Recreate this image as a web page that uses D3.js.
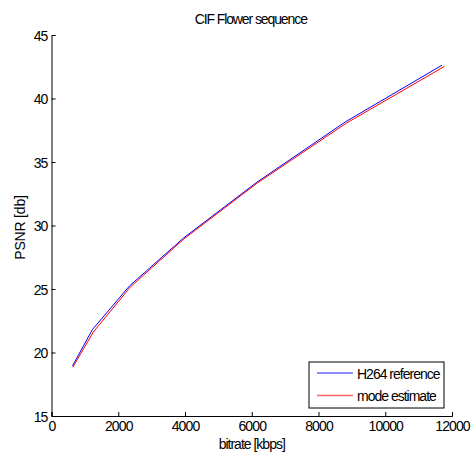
<!DOCTYPE html>
<html>
<head>
<meta charset="utf-8">
<script src="https://cdn.jsdelivr.net/npm/d3@7"></script>
<style>
  body { margin: 0; background: #fff; }
  text { font-family: "Liberation Sans", Arial, sans-serif; fill: #000; }
</style>
</head>
<body>
<svg id="chart" width="471" height="453"></svg>
<script>
// Rate-distortion points (bitrate in kbps, PSNR in dB)
const refBitrate = [630, 1225, 2340, 3950, 6150, 8800, 11700];
const refPsnr    = [18.95, 21.8, 25.25, 29.0, 33.4, 38.15, 42.62];
const estBitrate = [640, 1250, 2360, 3970, 6170, 8830, 11770];
const estPsnr    = [18.85, 21.6, 25.15, 28.95, 33.35, 38.05, 42.52];
const xTicks = [0, 2000, 4000, 6000, 8000, 10000, 12000];
const yTicks = [15, 20, 25, 30, 35, 40, 45];
const seriesNames = ["H264 reference", "mode estimate"];
const seriesColors = ["#0000ff", "#ff0000"];

const svg = d3.select("#chart");
const plotLeft = 51.5, plotRight = 452, plotTop = 35, plotBottom = 416;

const x = d3.scaleLinear().domain([0, 12000]).range([plotLeft, plotRight]);
const y = d3.scaleLinear().domain([15, 45]).range([plotBottom, plotTop]);

const xAxis = svg.append("g")
  .attr("transform", `translate(0,${plotBottom})`)
  .call(d3.axisBottom(x).tickValues(xTicks).tickSize(-4).tickPadding(6).tickFormat(d3.format("d")));
const yAxis = svg.append("g")
  .attr("transform", `translate(${plotLeft},0)`)
  .call(d3.axisLeft(y).tickValues(yTicks).tickSize(-4).tickPadding(4).tickFormat(d3.format("d")));

[xAxis, yAxis].forEach(g => {
  g.select(".domain").attr("stroke", "#000").attr("stroke-width", 1);
  g.selectAll(".tick line").attr("stroke", "#000");
  g.selectAll(".tick text").attr("font-size", 14).style("letter-spacing", "-0.9px");
});
xAxis.selectAll(".tick text").attr("dy", "0.71em").attr("y", 5);
yAxis.selectAll(".tick text").attr("dy", "0.36em");

const line = d3.line().x(d => x(d[0])).y(d => y(d[1]));
const series = [
  d3.zip(refBitrate, refPsnr),
  d3.zip(estBitrate, estPsnr)
];
series.forEach((pts, i) => {
  svg.append("path")
    .datum(pts)
    .attr("fill", "none")
    .attr("stroke", seriesColors[i])
    .attr("stroke-width", 1)
    .attr("d", line);
});

// Title and axis labels
svg.append("text")
  .attr("x", (plotLeft + plotRight) / 2 - 1).attr("y", 24)
  .attr("text-anchor", "middle").attr("font-size", 14)
  .style("letter-spacing", "-1.1px")
  .text("CIF Flower sequence");
svg.append("text")
  .attr("x", (plotLeft + plotRight) / 2).attr("y", 449)
  .attr("text-anchor", "middle").attr("font-size", 14)
  .style("letter-spacing", "-1px")
  .text("bitrate [kbps]");
svg.append("text")
  .attr("transform", `translate(25,${(plotTop + plotBottom) / 2 + 2}) rotate(-90)`)
  .attr("text-anchor", "middle").attr("font-size", 14)
  .style("letter-spacing", "-0.2px")
  .text("PSNR [db]");

// Legend
const lg = svg.append("g").attr("transform", "translate(309,362)");
lg.append("rect").attr("width", 135).attr("height", 46)
  .attr("fill", "#fff").attr("stroke", "#000").attr("stroke-width", 1);
seriesNames.forEach((name, i) => {
  const yy = 11 + i * 22.5;
  lg.append("line").attr("x1", 8).attr("x2", 44).attr("y1", yy).attr("y2", yy)
    .attr("stroke", seriesColors[i]).attr("stroke-opacity", 0.6).attr("stroke-width", 1.5);
  lg.append("text").attr("x", 48).attr("y", yy + 5.5).attr("font-size", 14)
    .style("letter-spacing", "-1px")
    .text(name);
});
</script>
</body>
</html>
